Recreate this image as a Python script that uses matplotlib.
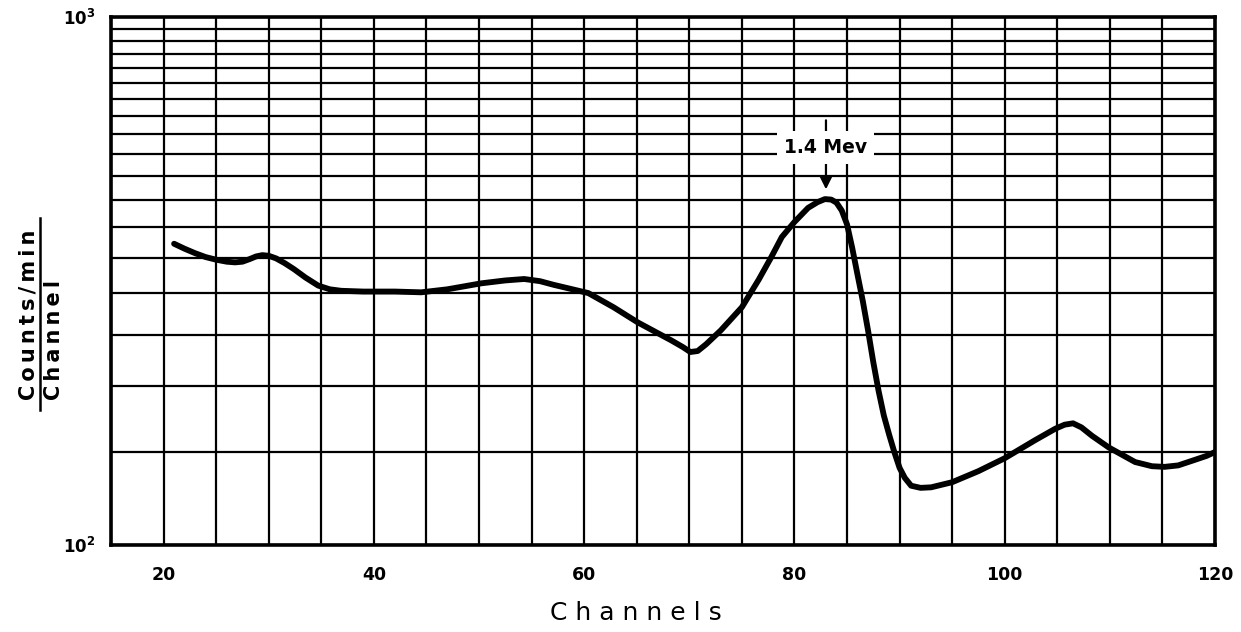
import matplotlib
matplotlib.use("Agg")
import matplotlib.pyplot as plt
from matplotlib.ticker import FixedLocator, NullFormatter

# ---- data ----
channels = [21, 22, 23, 24, 25, 26, 26.8, 27.5, 28.2, 28.8, 29.4, 30.0, 30.7, 31.5,
            32.4, 33.5, 34.7, 35.8, 36.9, 39, 42,
            44.5, 47, 50.2, 52.5, 54.3, 55.8, 57.1, 60.4, 62.8, 65.1, 68.3, 69.4, 70.1,
            70.8, 71.6, 73, 75, 76.6, 77.8, 78.8, 80, 81.3, 82.2, 82.9, 83.5, 84.0,
            84.5, 85.0, 85.5, 86.0, 86.5, 87.0, 87.5, 88.0, 88.5, 89.0, 89.5, 90.0,
            90.5, 91.1, 92.0, 93.0, 95, 97.5,
            100, 102.9, 104.8, 105.7, 106.5, 107.3, 108.3, 109.9, 112.4, 114.0, 115.2,
            116.5, 118.1, 119.2, 120]
counts = [372, 364, 357, 351, 347, 344, 343, 344, 348, 352, 354, 353, 349, 342,
          333, 321, 310, 305, 303, 302, 302,
          301, 305, 313, 317, 319, 316, 311, 300, 282, 264, 244, 237, 232,
          233, 240, 255, 282, 318, 351, 383, 409, 435, 446, 452, 451, 445,
          430, 405, 365, 325, 290, 255, 222, 196, 176, 162, 150, 140,
          134, 129.5, 128.3, 128.6, 131.5, 138,
          146, 158, 166, 169, 170, 167, 161, 153, 143.6, 141, 140.6,
          141.5, 145, 147.5, 150]

x_tick_vals = [20, 40, 60, 80, 100, 120]
x_tick_labels = ["20", "40", "60", "80", "100", "120"]
y_tick_vals = [100, 1000]
y_tick_labels = [r"$\mathbf{10^2}$", r"$\mathbf{10^3}$"]
x_grid = list(range(15, 121, 5))
y_grid = list(range(150, 1000, 50))

peak_label = "1.4 Mev"
peak_x = 83
peak_tip = 466
peak_text_y = 565
peak_line_top = 645

fig = plt.figure(figsize=(12.41, 6.32), dpi=100)
ax = fig.add_axes([111/1241, 1-545/632, (1215-111)/1241, (545-17)/632])
ax.set_yscale("log")
ax.set_xlim(15, 120)
ax.set_ylim(100, 1000)

ax.set_xticks(x_tick_vals)
ax.set_xticklabels(x_tick_labels, fontsize=12.5, fontweight="bold")
ax.xaxis.set_minor_locator(FixedLocator(x_grid))
ax.set_yticks(y_tick_vals)
ax.set_yticklabels(y_tick_labels, fontsize=12)
ax.yaxis.set_minor_locator(FixedLocator(y_grid))
ax.yaxis.set_minor_formatter(NullFormatter())
ax.tick_params(which="both", length=0)
ax.tick_params(axis="x", pad=15)
ax.tick_params(axis="y", pad=11)

ax.grid(True, which="both", color="black", linewidth=1.6)
ax.set_axisbelow(True)
for s in ax.spines.values():
    s.set_linewidth(2.6)

ax.plot(channels, counts, color="black", linewidth=4.2, solid_capstyle="round",
        solid_joinstyle="round", zorder=5)

# annotation arrow + label
ax.annotate("", xy=(peak_x, peak_tip), xytext=(peak_x, peak_line_top),
            arrowprops=dict(arrowstyle="-|>", color="black", lw=1.6,
                            mutation_scale=18), zorder=6)
ax.text(peak_x, peak_text_y, peak_label, ha="center", va="center",
        fontsize=13.5, fontweight="bold",
        bbox=dict(facecolor="white", edgecolor="none", pad=5), zorder=7)

# axis labels
ts = "\u2009"
fig.text(636/1241, 1-613/632, "C h a n n e l s", ha="center", va="center",
         fontsize=18)
fig.text(29/1241, 1-400/632, ts.join("Counts/min"), rotation=90, ha="center",
         va="bottom", fontsize=15, fontweight="bold")
fig.text(54/1241, 1-400/632, ts.join("Channel"), rotation=90, ha="center",
         va="bottom", fontsize=15, fontweight="bold")
fig.add_artist(plt.Line2D([40/1241, 40/1241], [1-410/632, 1-218/632],
                          color="black", linewidth=1.8))

fig.savefig("out.png", dpi=100, facecolor="white")
